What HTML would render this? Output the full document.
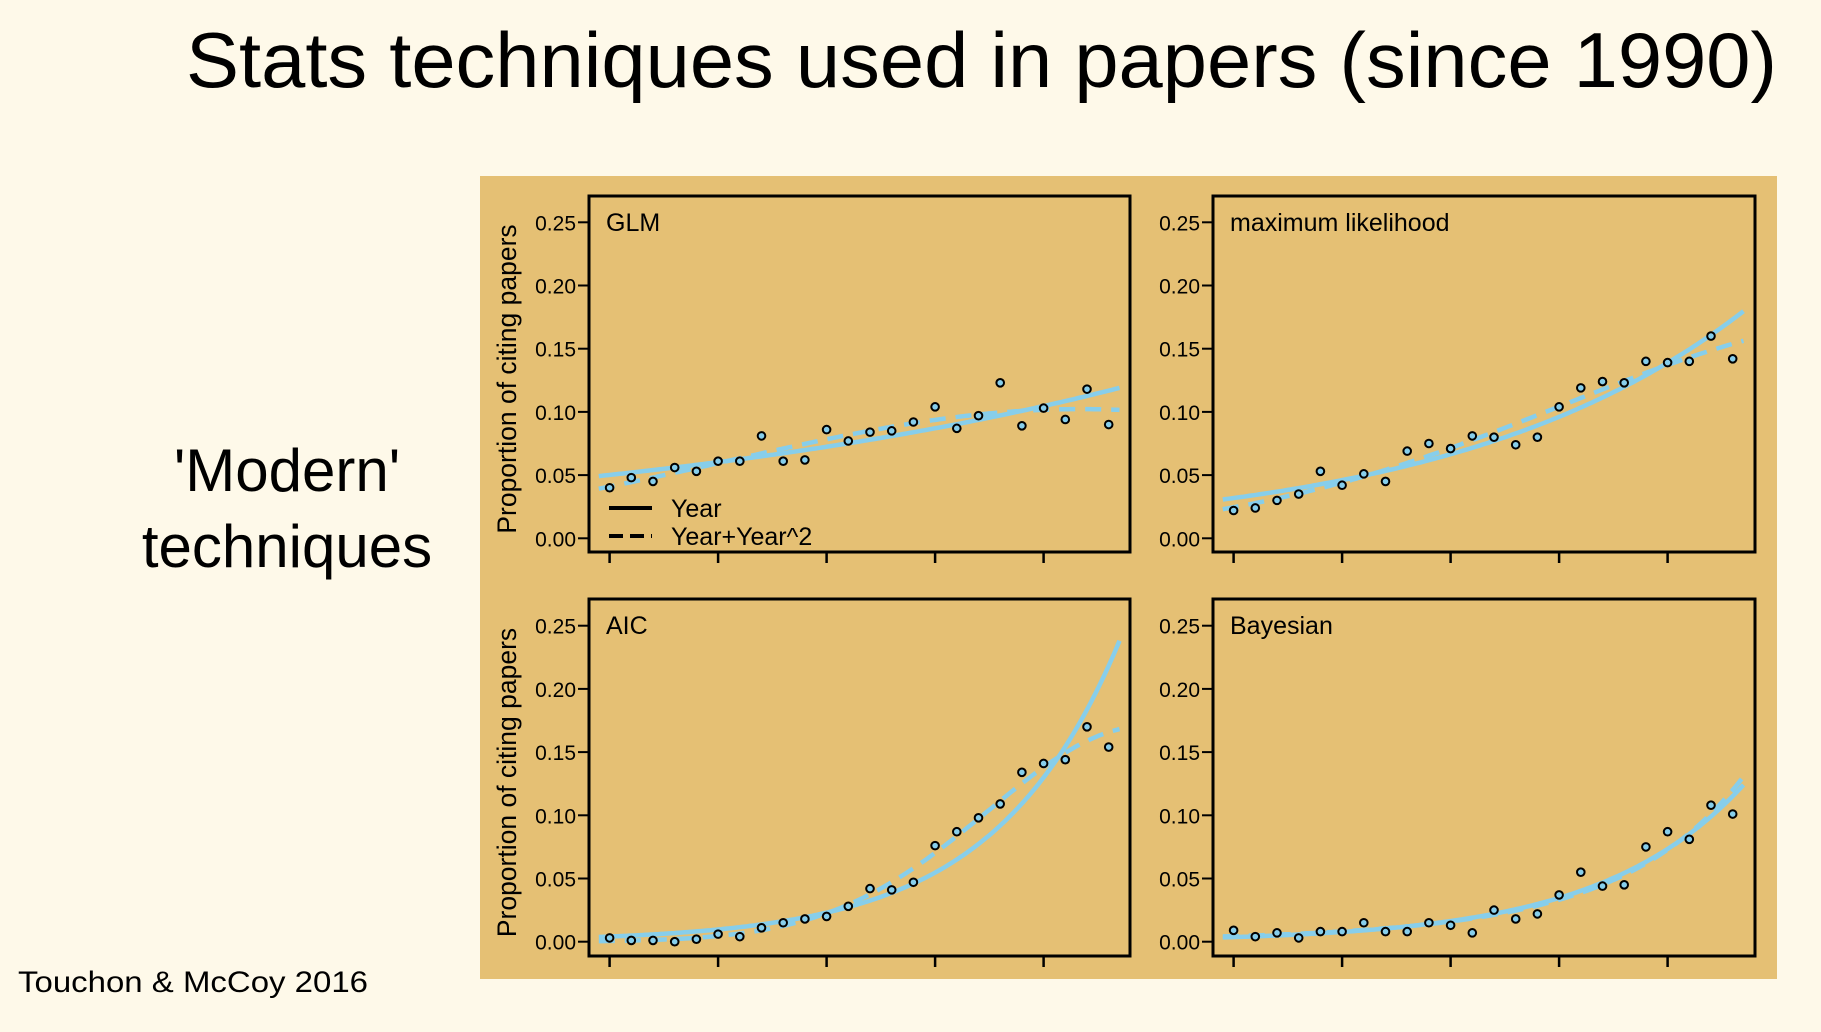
<!DOCTYPE html>
<html><head><meta charset="utf-8"><style>
html,body{margin:0;padding:0;background:#fef9e9;}
body{width:1821px;height:1032px;overflow:hidden;position:relative;}
svg{position:absolute;left:0;top:0;}
</style></head><body>
<svg id="chart" width="1821" height="1032" viewBox="0 0 1821 1032" xmlns="http://www.w3.org/2000/svg">
<rect width="1821" height="1032" fill="#fef9e9"/>
<text x="186" y="87" font-family="'Liberation Sans', sans-serif" font-size="78" textLength="1591" lengthAdjust="spacingAndGlyphs" fill="#000">Stats techniques used in papers (since 1990)</text>
<text x="287" y="491" text-anchor="middle" font-family="'Liberation Sans', sans-serif" font-size="60" fill="#000">'Modern'</text>
<text x="287" y="567" text-anchor="middle" font-family="'Liberation Sans', sans-serif" font-size="60" fill="#000">techniques</text>
<text x="18" y="992" font-family="'Liberation Sans', sans-serif" font-size="30" textLength="350" lengthAdjust="spacingAndGlyphs" fill="#000">Touchon &amp; McCoy 2016</text>
<rect x="480" y="176" width="1297" height="803" fill="#e5c074"/>
<g id="plots"></g>
</svg>
<script>
const years = [1990,1991,1992,1993,1994,1995,1996,1997,1998,1999,2000,2001,2002,2003,2004,2005,2006,2007,2008,2009,2010,2011,2012,2013];
const glmValues = [0.040,0.048,0.045,0.056,0.053,0.061,0.061,0.081,0.061,0.062,0.086,0.077,0.084,0.085,0.092,0.104,0.087,0.097,0.123,0.089,0.103,0.094,0.118,0.090];
const mlValues = [0.022,0.024,0.030,0.035,0.053,0.042,0.051,0.045,0.069,0.075,0.071,0.081,0.080,0.074,0.080,0.104,0.119,0.124,0.123,0.140,0.139,0.140,0.160,0.142];
const aicValues = [0.003,0.001,0.001,0.000,0.002,0.006,0.004,0.011,0.015,0.018,0.020,0.028,0.042,0.041,0.047,0.076,0.087,0.098,0.109,0.134,0.141,0.144,0.170,0.154];
const bayesValues = [0.009,0.004,0.007,0.003,0.008,0.008,0.015,0.008,0.008,0.015,0.013,0.007,0.025,0.018,0.022,0.037,0.055,0.044,0.045,0.075,0.087,0.081,0.108,0.101];
const panelTitles = ["GLM","maximum likelihood","AIC","Bayesian"];
const yTicks = [0.00,0.05,0.10,0.15,0.20,0.25];
const yTickLabels = ["0.00","0.05","0.10","0.15","0.20","0.25"];
const xTicks = [1990,1995,2000,2005,2010];
const legendLabels = ["Year","Year+Year^2"];

const NS="http://www.w3.org/2000/svg";
const root=document.getElementById('plots');
const BLUE="#87ceeb";
function mk(tag,attrs,parent){const e=document.createElementNS(NS,tag);for(const k in attrs)e.setAttribute(k,attrs[k]);(parent||root).appendChild(e);return e;}

function solve(A,b){const n=b.length;const M=A.map((r,i)=>r.concat([b[i]]));
 for(let i=0;i<n;i++){let p=i;for(let k=i+1;k<n;k++)if(Math.abs(M[k][i])>Math.abs(M[p][i]))p=k;[M[i],M[p]]=[M[p],M[i]];
  for(let k=i+1;k<n;k++){const f=M[k][i]/M[i][i];for(let j=i;j<=n;j++)M[k][j]-=f*M[i][j];}}
 const x=new Array(n).fill(0);for(let i=n-1;i>=0;i--){let s=M[i][n];for(let j=i+1;j<n;j++)s-=M[i][j]*x[j];x[i]=s/M[i][i];}return x;}
function fit(ys,deg){const ts=years.map(y=>(y-2001.5)/10);const X=ts.map(t=>{const r=[1];for(let d=1;d<=deg;d++)r.push(Math.pow(t,d));return r;});
 let eta=ys.map(y=>Math.log(y+0.002));let beta=null;
 for(let it=0;it<50;it++){const mu=eta.map(Math.exp);const z=eta.map((e,i)=>e+(ys[i]-mu[i])/mu[i]);const p=deg+1;
  const A=[...Array(p)].map(()=>new Array(p).fill(0));const b=new Array(p).fill(0);
  X.forEach((r,i)=>{for(let j=0;j<p;j++){b[j]+=mu[i]*r[j]*z[i];for(let k=0;k<p;k++)A[j][k]+=mu[i]*r[j]*r[k];}});
  beta=solve(A,b);eta=X.map(r=>r.reduce((s,v,j)=>s+v*beta[j],0));}
 return t=>{const tt=(t-2001.5)/10;let e=0;for(let j=0;j<=deg;j++)e+=beta[j]*Math.pow(tt,j);return Math.exp(e);};}

const panels=[
 {vals:glmValues,x0:589,x1:1130,y0:196,y1:552,zeroY:538.3,topY:222.3,ylab:true,legend:true},
 {vals:mlValues,x0:1213,x1:1755,y0:196,y1:552,zeroY:538.3,topY:222.3,ylab:false,legend:false},
 {vals:aicValues,x0:589,x1:1130,y0:599,y1:956,zeroY:941.7,topY:625.7,ylab:true,legend:false},
 {vals:bayesValues,x0:1213,x1:1755,y0:599,y1:956,zeroY:941.7,topY:625.7,ylab:false,legend:false}
];
const names=["glm","maximum-likelihood","aic","bayesian"];
panels.forEach((P,pi)=>{
 const g=mk('g',{});
 
 
 const xs=yr=>P.x0+20.6+(yr-years[0])*21.7;
 const ysc=v=>P.zeroY-(v/0.25)*(P.zeroY-P.topY);
 yTicks.forEach((t,i)=>{
  const tk=mk('line',{x1:P.x0-11,x2:P.x0,y1:ysc(t),y2:ysc(t),stroke:'#000','stroke-width':2},g);
  
  
  const tl=mk('text',{x:P.x0-13,y:ysc(t)+8,'text-anchor':'end','font-family':"'Liberation Sans', sans-serif",'font-size':21,fill:'#000'},g);
  tl.textContent=yTickLabels[i];
  
  
 });
 xTicks.forEach(t=>{
  const tk=mk('line',{x1:xs(t),x2:xs(t),y1:P.y1,y2:P.y1+11,stroke:'#000','stroke-width':2.5},g);
  
  
 });
 if(P.ylab){
  const yl=mk('text',{x:0,y:0,transform:`translate(516,${(P.y0+P.y1)/2+5}) rotate(-90)`,'text-anchor':'middle','font-family':"'Liberation Sans', sans-serif",'font-size':26.5,fill:'#000'},g);
  yl.textContent="Proportion of citing papers";
  
  
 }
 const f1=fit(P.vals,1), f2=fit(P.vals,2);
 const path=f=>{let d='';for(let k=0;k<=200;k++){const yr=years[0]-0.5+k*(years.length)/200;d+=(k?'L':'M')+xs(yr).toFixed(1)+','+ysc(f(yr)).toFixed(1);}return d;};
 const clipId='clip'+pi;
 const cp=mk('clipPath',{id:clipId},g);mk('rect',{x:P.x0,y:P.y0,width:P.x1-P.x0,height:P.y1-P.y0},cp);
 const l2=mk('path',{d:path(f2),fill:'none',stroke:BLUE,'stroke-width':4.5,'stroke-dasharray':'16 10','clip-path':`url(#${clipId})`},g);
 
 
 const l1=mk('path',{d:path(f1),fill:'none',stroke:BLUE,'stroke-width':4.5,'clip-path':`url(#${clipId})`},g);
 
 
 P.vals.forEach((v,i)=>{
  const c=mk('circle',{cx:xs(years[i]),cy:ysc(v),r:3.8,fill:BLUE,stroke:'#000','stroke-width':2},g);
  
  
 });
 const box=mk('rect',{x:P.x0,y:P.y0,width:P.x1-P.x0,height:P.y1-P.y0,fill:'none',stroke:'#000','stroke-width':3},g);
 
 
 const tt=mk('text',{x:P.x0+17,y:P.y0+35,'font-family':"'Liberation Sans', sans-serif",'font-size':25,fill:'#000'},g);
 tt.textContent=panelTitles[pi];
 
 
 if(P.legend){
  const lg=mk('g',{},g);
  
  
  [0,1].forEach(k=>{
   const yy=[508,536][k];
   const ln=mk('line',{x1:609,x2:652,y1:yy,y2:yy,stroke:'#000','stroke-width':4,'stroke-dasharray':k?'14 7':'none'},lg);
   
   
   const lt=mk('text',{x:671,y:yy+9,'font-family':"'Liberation Sans', sans-serif",'font-size':25,fill:'#000'},lg);
   lt.textContent=legendLabels[k];
   
   
  });
 }
});
</script>
</body></html>
